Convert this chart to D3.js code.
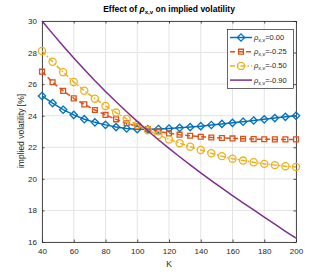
<!DOCTYPE html>
<html>
<head>
<meta charset="utf-8">
<script src="https://cdn.jsdelivr.net/npm/d3@7"></script>
<style>
  body { margin: 0; background: #fff; }
  svg { font-family: "Liberation Sans", Arial, sans-serif; }
</style>
</head>
<body>
<svg width="327" height="272"></svg>
<script>
const strikes = [40, 46.67, 53.33, 60, 66.67, 73.33, 80, 86.67, 93.33, 100, 106.67, 113.33, 120,
    126.67, 133.33, 140, 146.67, 153.33, 160, 166.67, 173.33, 180, 186.67, 193.33, 200];

const vol000 = [25.25, 24.8, 24.38, 24.05, 23.78, 23.58, 23.42, 23.28, 23.19, 23.15, 23.14, 23.16, 23.19,
    23.23, 23.28, 23.34, 23.41, 23.48, 23.55, 23.62, 23.7, 23.77, 23.85, 23.93, 24.0];
const vol025 = [26.79, 26.12, 25.57, 25.1, 24.72, 24.36, 24.05, 23.77, 23.52, 23.33, 23.15, 23.0, 22.89,
    22.8, 22.73, 22.67, 22.62, 22.59, 22.56, 22.54, 22.52, 22.51, 22.5, 22.5, 22.5];
const vol050 = [28.1, 27.42, 26.76, 26.14, 25.58, 25.08, 24.62, 24.2, 23.8, 23.42, 23.08, 22.78, 22.5,
    22.26, 22.04, 21.83, 21.62, 21.44, 21.28, 21.16, 21.05, 20.95, 20.87, 20.8, 20.75];
const vol090 = [30.0, 29.2, 28.42, 27.66, 26.93, 26.22, 25.54, 24.88, 24.25, 23.64, 23.05, 22.48, 21.93,
    21.4, 20.88, 20.38, 19.89, 19.41, 18.94, 18.48, 18.03, 17.58, 17.13, 16.68, 16.24];

const rhoLabels = ['0.00', '-0.25', '-0.50', '-0.90'];
const xTicks = [40, 60, 80, 100, 120, 140, 160, 180, 200];
const yTicks = [16, 18, 20, 22, 24, 26, 28, 30];

const PLOT = {left: 42, right: 296, top: 21, bottom: 242};
const AXIS_COLOR = '#262626';

const series = [
    {values: vol000, color: '#0072BD', dash: null, marker: 'diamond'},
    {values: vol025, color: '#D95319', dash: '5,3', marker: 'square'},
    {values: vol050, color: '#EDB120', dash: '5,2,1.5,2', marker: 'circle'},
    {values: vol090, color: '#7E2F8E', dash: null, marker: null}
];

const x = d3.scaleLinear().domain([40, 200]).range([PLOT.left, PLOT.right]);
const y = d3.scaleLinear().domain([16, 30]).range([PLOT.bottom, PLOT.top]);

const svg = d3.select('svg');

// grid
svg.append('g')
    .selectAll('line.gx')
    .data(xTicks)
    .enter()
    .append('line')
    .attr('x1', d => x(d)).attr('x2', d => x(d))
    .attr('y1', PLOT.top).attr('y2', PLOT.bottom)
    .attr('stroke', '#e3e3e3').attr('stroke-width', 1);

svg.append('g')
    .selectAll('line.gy')
    .data(yTicks)
    .enter()
    .append('line')
    .attr('y1', d => y(d)).attr('y2', d => y(d))
    .attr('x1', PLOT.left).attr('x2', PLOT.right)
    .attr('stroke', '#e3e3e3').attr('stroke-width', 1);

// axes, ticks inward on all four sides
function styleAxis(g) {
    g.select('.domain').attr('stroke', AXIS_COLOR).attr('stroke-width', 0.8);
    g.selectAll('.tick line').attr('stroke', AXIS_COLOR).attr('stroke-width', 0.8);
    g.selectAll('.tick text').attr('fill', AXIS_COLOR).style('font-size', '8px');
}

svg.append('g')
    .attr('transform', `translate(0, ${PLOT.bottom})`)
    .call(d3.axisBottom(x).tickValues(xTicks).tickSizeInner(-2.5).tickSizeOuter(0).tickPadding(6))
    .call(styleAxis);

svg.append('g')
    .attr('transform', `translate(0, ${PLOT.top})`)
    .call(d3.axisTop(x).tickValues(xTicks).tickSizeInner(-2.5).tickSizeOuter(0).tickFormat(''))
    .call(styleAxis);

svg.append('g')
    .attr('transform', `translate(${PLOT.left}, 0)`)
    .call(d3.axisLeft(y).tickValues(yTicks).tickSizeInner(-2.5).tickSizeOuter(0).tickPadding(5))
    .call(styleAxis);

svg.append('g')
    .attr('transform', `translate(${PLOT.right}, 0)`)
    .call(d3.axisRight(y).tickValues(yTicks).tickSizeInner(-2.5).tickSizeOuter(0).tickFormat(''))
    .call(styleAxis);

// lines and markers
const line = d3.line().x((d, i) => x(strikes[i])).y(d => y(d));

const symbols = {
    diamond: d3.symbol().type(d3.symbolDiamond2).size(34),
    square: d3.symbol().type(d3.symbolSquare2).size(30),
    circle: d3.symbol().type(d3.symbolCircle).size(40)
};

series.forEach(s => {
    svg.append('path')
        .datum(s.values)
        .attr('d', line)
        .attr('fill', 'none')
        .attr('stroke', s.color)
        .attr('stroke-width', 1.5)
        .attr('stroke-dasharray', s.dash);

    if (s.marker) {
        svg.append('g')
            .selectAll('path')
            .data(s.values)
            .enter()
            .append('path')
            .attr('d', symbols[s.marker])
            .attr('transform', (d, i) => `translate(${x(strikes[i])}, ${y(d)})`)
            .attr('fill', 'none')
            .attr('stroke', s.color)
            .attr('stroke-width', 1.3);
    }
});

// labels
svg.append('text')
    .attr('x', 169).attr('y', 266.5)
    .attr('text-anchor', 'middle')
    .attr('fill', AXIS_COLOR)
    .style('font-size', '8.5px')
    .text('K');

svg.append('text')
    .attr('transform', 'translate(24, 131) rotate(-90)')
    .attr('text-anchor', 'middle')
    .attr('fill', AXIS_COLOR)
    .style('font-size', '8.5px')
    .text('implied volatility [%]');

function rhoText(sel, suffix, size) {
    sel.append('tspan').style('font-style', 'italic').text('ρ');
    sel.append('tspan').attr('dy', 2).style('font-size', (size * 0.72) + 'px').text('x,v');
    sel.append('tspan').attr('dy', -2).text(suffix);
}

let title = svg.append('text')
    .attr('x', 169).attr('y', 12)
    .attr('text-anchor', 'middle')
    .attr('fill', '#000')
    .style('font-size', '8.5px')
    .style('font-weight', 'bold');
title.append('tspan').text('Effect of ');
rhoText(title, ' on implied volatility', 8.5);

// legend
const legend = svg.append('g');
legend.append('rect')
    .attr('x', 227.5).attr('y', 29.5)
    .attr('width', 66).attr('height', 59)
    .attr('fill', '#fff')
    .attr('stroke', AXIS_COLOR)
    .attr('stroke-width', 0.7);

series.forEach((s, i) => {
    const ly = 37.5 + i * 14.2;
    legend.append('line')
        .attr('x1', 230).attr('x2', 252)
        .attr('y1', ly).attr('y2', ly)
        .attr('stroke', s.color)
        .attr('stroke-width', 1.5)
        .attr('stroke-dasharray', s.dash);
    if (s.marker) {
        legend.append('path')
            .attr('d', symbols[s.marker])
            .attr('transform', `translate(241, ${ly})`)
            .attr('fill', 'none')
            .attr('stroke', s.color)
            .attr('stroke-width', 1.3);
    }
    let t = legend.append('text')
        .attr('x', 254).attr('y', ly + 2.5)
        .attr('fill', AXIS_COLOR)
        .style('font-size', '7.5px');
    rhoText(t, '=' + rhoLabels[i], 7.5);
});
</script>
</body>
</html>
